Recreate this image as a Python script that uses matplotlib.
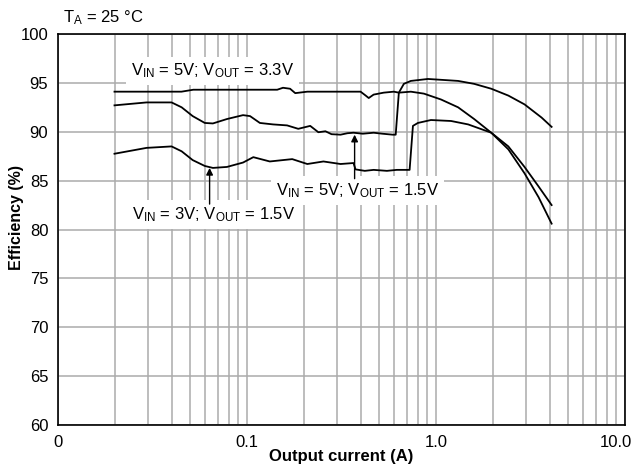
import matplotlib
matplotlib.use("Agg")
import matplotlib.pyplot as plt
import matplotlib.transforms as mtransforms

plt.rcParams['font.family'] = ['Liberation Sans', 'DejaVu Sans']
plt.rcParams['mathtext.default'] = 'regular'

# VIN = 5V; VOUT = 3.3V
i_5v_33 = [0.0199, 0.045, 0.052, 0.0918, 0.1445, 0.155, 0.169, 0.180, 0.2085, 0.399,
           0.4246, 0.4406, 0.4677, 0.5288, 0.598, 0.636, 0.736, 0.863, 1.063, 1.309,
           1.592, 1.961, 2.414, 2.94, 3.49, 4.09]
eff_5v_33 = [94.1, 94.1, 94.3, 94.3, 94.3, 94.5, 94.4, 93.95, 94.1, 94.1,
             93.7, 93.45, 93.8, 94.0, 94.1, 94.0, 94.1, 93.9, 93.3, 92.5,
             91.3, 89.9, 88.2, 85.75, 83.3, 80.6]

# VIN = 5V; VOUT = 1.5V
i_5v_15 = [0.0199, 0.0294, 0.0399, 0.0451, 0.0516, 0.0598, 0.066, 0.0783, 0.0953, 0.1038,
           0.117, 0.1375, 0.163, 0.1867, 0.216, 0.2386, 0.26, 0.28, 0.3126, 0.34,
           0.366, 0.41, 0.4677, 0.52, 0.5906, 0.612, 0.636, 0.676, 0.736, 0.906,
           1.309, 1.592, 1.961, 2.414, 2.94, 3.62, 4.09]
eff_5v_15 = [92.7, 93.0, 93.0, 92.5, 91.6, 90.9, 90.85, 91.3, 91.7, 91.6,
             90.9, 90.75, 90.65, 90.3, 90.6, 89.95, 90.05, 89.75, 89.7, 89.85,
             89.9, 89.8, 89.9, 89.8, 89.7, 89.7, 94.0, 94.9, 95.2, 95.4,
             95.2, 94.9, 94.4, 93.7, 92.8, 91.45, 90.5]

# VIN = 3V; VOUT = 1.5V
i_3v_15 = [0.0199, 0.0294, 0.0399, 0.0451, 0.0516, 0.0598, 0.066, 0.0783, 0.0953, 0.108,
           0.132, 0.1735, 0.2085, 0.2537, 0.3126, 0.366, 0.375, 0.42, 0.4677, 0.55,
           0.62, 0.725, 0.755, 0.802, 0.94, 1.202, 1.48, 1.961, 2.414, 2.94,
           3.49, 4.09]
eff_3v_15 = [87.75, 88.35, 88.5, 88.0, 87.1, 86.5, 86.3, 86.4, 86.85, 87.4,
             86.96, 87.2, 86.7, 86.96, 86.7, 86.8, 86.15, 86.0, 86.1, 86.0,
             86.1, 86.1, 90.6, 90.9, 91.2, 91.1, 90.75, 89.9, 88.5, 86.4,
             84.4, 82.5]

x_major = [0.01, 0.1, 1, 10]
x_labels = ['0', '0.1', '1.0', '10.0']
y_ticks = [60, 65, 70, 75, 80, 85, 90, 95, 100]

W, H = 634, 467
fig = plt.figure(figsize=(W / 100, H / 100), dpi=100)
ax = fig.add_axes([58 / W, 1 - 425 / H, 567 / W, 391 / H])

ax.plot(i_5v_33, eff_5v_33, color='black', lw=1.3, zorder=3)
ax.plot(i_5v_15, eff_5v_15, color='black', lw=1.3, zorder=3)
ax.plot(i_3v_15, eff_3v_15, color='black', lw=1.3, zorder=3)

ax.set_xscale('log')
ax.set_xlim(0.01, 10)
ax.set_ylim(60, 100)
ax.set_xticks(x_major)
ax.set_xticklabels(x_labels)
minor = [m * d for d in (0.01, 0.1, 1) for m in range(2, 10)]
ax.set_xticks(minor, minor=True)
ax.set_yticks(y_ticks)
ax.tick_params(which='both', length=0, labelsize=12)
ax.tick_params(axis='x', pad=7)
ax.tick_params(axis='y', pad=7)
ax.grid(True, which='both', color='#ababab', lw=1.1, zorder=1)
for s in ax.spines.values():
    s.set_linewidth(1.2)
    s.set_color('black')
    s.set_zorder(4)

last = ax.get_xticklabels()[-1]
last.set_horizontalalignment('right')
last.set_transform(last.get_transform() + mtransforms.ScaledTranslation(0.07, 0, fig.dpi_scale_trans))

box = dict(boxstyle='square,pad=0.3', fc='white', ec='none')
ax.text(0.066, 96.2, r'V$_{IN}$ = 5V; V$_{OUT}$ = 3.3V', fontsize=12,
        ha='center', va='center', bbox=box, zorder=2)
ax.text(0.0668, 81.5, r'V$_{IN}$ = 3V; V$_{OUT}$ = 1.5V', fontsize=12,
        ha='center', va='center', bbox=box, zorder=2)
ax.text(0.386, 84.0, r'V$_{IN}$ = 5V; V$_{OUT}$ = 1.5V', fontsize=12,
        ha='center', va='center', bbox=box, zorder=2)

arrow = dict(arrowstyle='-|>', color='black', lw=1.0, mutation_scale=10, shrinkA=0, shrinkB=0)
ax.annotate('', xy=(0.0634, 86.3), xytext=(0.0634, 82.6), arrowprops=arrow, zorder=3)
ax.annotate('', xy=(0.371, 89.7), xytext=(0.371, 85.2), arrowprops=arrow, zorder=3)

fig.text(63 / W, 1 - 22 / H, r'T$_A$ = 25 °C', fontsize=12, ha='left', va='baseline')
fig.text(341.5 / W, 1 - 457 / H, 'Output current (A)', fontsize=12, fontweight='bold',
         ha='center', va='center')
fig.text(17 / W, 1 - 217 / H, 'Efficiency (%)', fontsize=11.5, fontweight='bold',
         ha='center', va='center', rotation=90)

fig.savefig('out.png', dpi=100)
